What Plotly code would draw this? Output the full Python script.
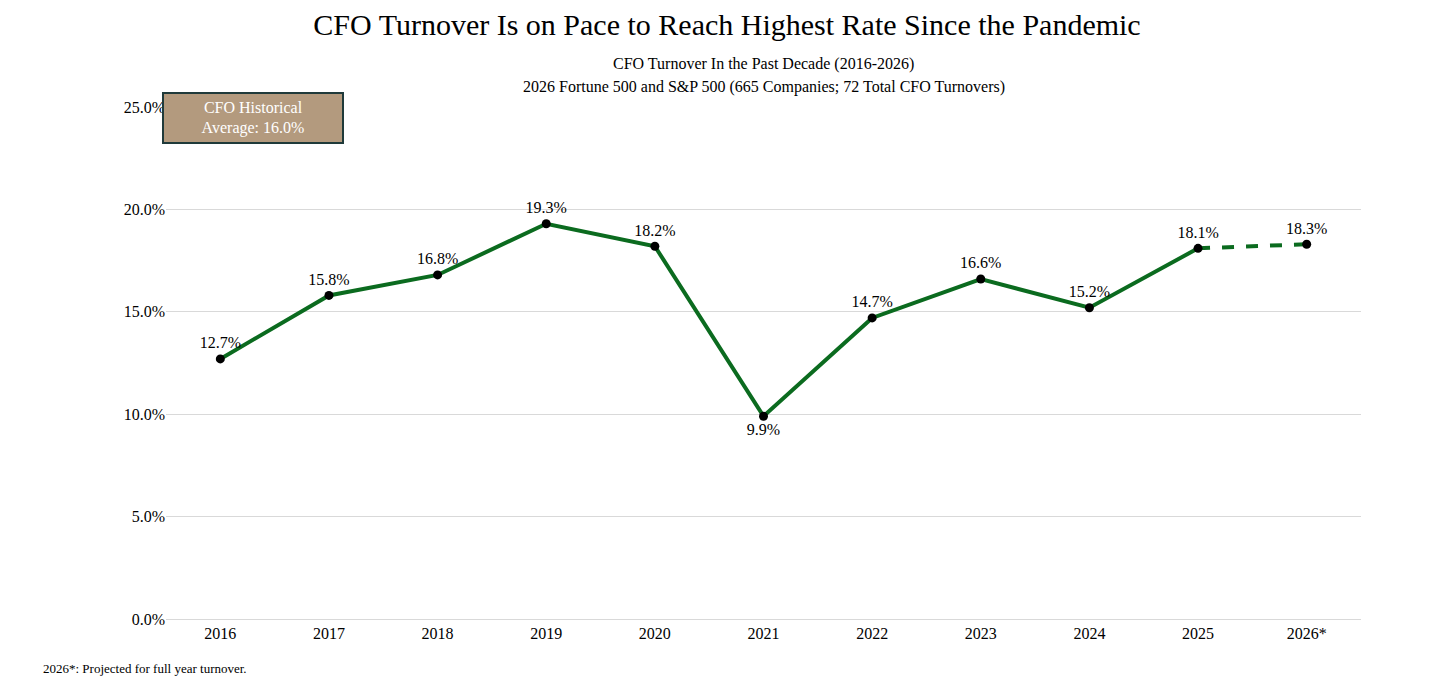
import plotly.graph_objects as go

years = ["2016", "2017", "2018", "2019", "2020", "2021", "2022", "2023", "2024", "2025", "2026*"]
turnover = [12.7, 15.8, 16.8, 19.3, 18.2, 9.9, 14.7, 16.6, 15.2, 18.1, 18.3]
tick_vals = [0, 5, 10, 15, 20, 25]

green = "#0b6b1f"
serif = "Liberation Serif, Times New Roman, serif"

# label above the point, except the 2021 dip which sits below
positions = ["top center"] * len(years)
positions[5] = "bottom center"

fig = go.Figure()
fig.add_trace(go.Scatter(
    x=years[:10], y=turnover[:10], mode="lines",
    line=dict(color=green, width=4), hoverinfo="skip", showlegend=False))
fig.add_trace(go.Scatter(
    x=years[9:], y=turnover[9:], mode="lines",
    line=dict(color=green, width=4, dash="dash"), hoverinfo="skip", showlegend=False))
fig.add_trace(go.Scatter(
    x=years, y=turnover, mode="markers+text",
    marker=dict(color="black", size=9),
    text=[f"{v:.1f}%" for v in turnover], textposition=positions,
    textfont=dict(family=serif, size=16, color="black"),
    showlegend=False))

fig.update_layout(
    width=1438, height=679,
    paper_bgcolor="white", plot_bgcolor="white",
    margin=dict(l=158, r=85, t=99, b=68),
    font=dict(family=serif, color="black"),
    title=dict(text="CFO Turnover Is on Pace to Reach Highest Rate Since the Pandemic",
               x=0.5, xanchor="center", y=0.975, yanchor="middle",
               font=dict(size=30, family=serif)),
    xaxis=dict(type="category", range=[-0.5, 10.5], showgrid=False,
               showline=True, linecolor="#d9d9d9", ticks="",
               tickfont=dict(size=16, family=serif)),
    yaxis=dict(range=[0, 25], tickvals=tick_vals,
               ticktext=[f"{v:.1f}%" for v in tick_vals],
               showgrid=True, gridcolor="#d9d9d9", zeroline=False,
               tickfont=dict(size=16, family=serif), ticklen=20, tickcolor="white"),
)

fig.add_annotation(text="CFO Turnover In the Past Decade (2016-2026)",
                   xref="paper", yref="paper", x=0.5, y=1.0, yshift=54,
                   showarrow=False, font=dict(size=16))
fig.add_annotation(text="2026 Fortune 500 and S&P 500 (665 Companies; 72 Total CFO Turnovers)",
                   xref="paper", yref="paper", x=0.5, y=1.0, yshift=31,
                   showarrow=False, font=dict(size=16))
fig.add_annotation(text="CFO Historical<br>Average: 16.0%",
                   xref="paper", yref="paper", x=-0.003, y=1.03, xanchor="left", yanchor="top",
                   showarrow=False, font=dict(size=16, color="white"),
                   bgcolor="#b39a7e", bordercolor="#1f3a3a", borderwidth=2,
                   width=176, height=46, align="center")
fig.add_annotation(text="2026*: Projected for full year turnover.",
                   xref="paper", yref="paper", x=-0.105, y=0, yshift=-59,
                   xanchor="left", showarrow=False, font=dict(size=13))

fig.write_html("out.html")
